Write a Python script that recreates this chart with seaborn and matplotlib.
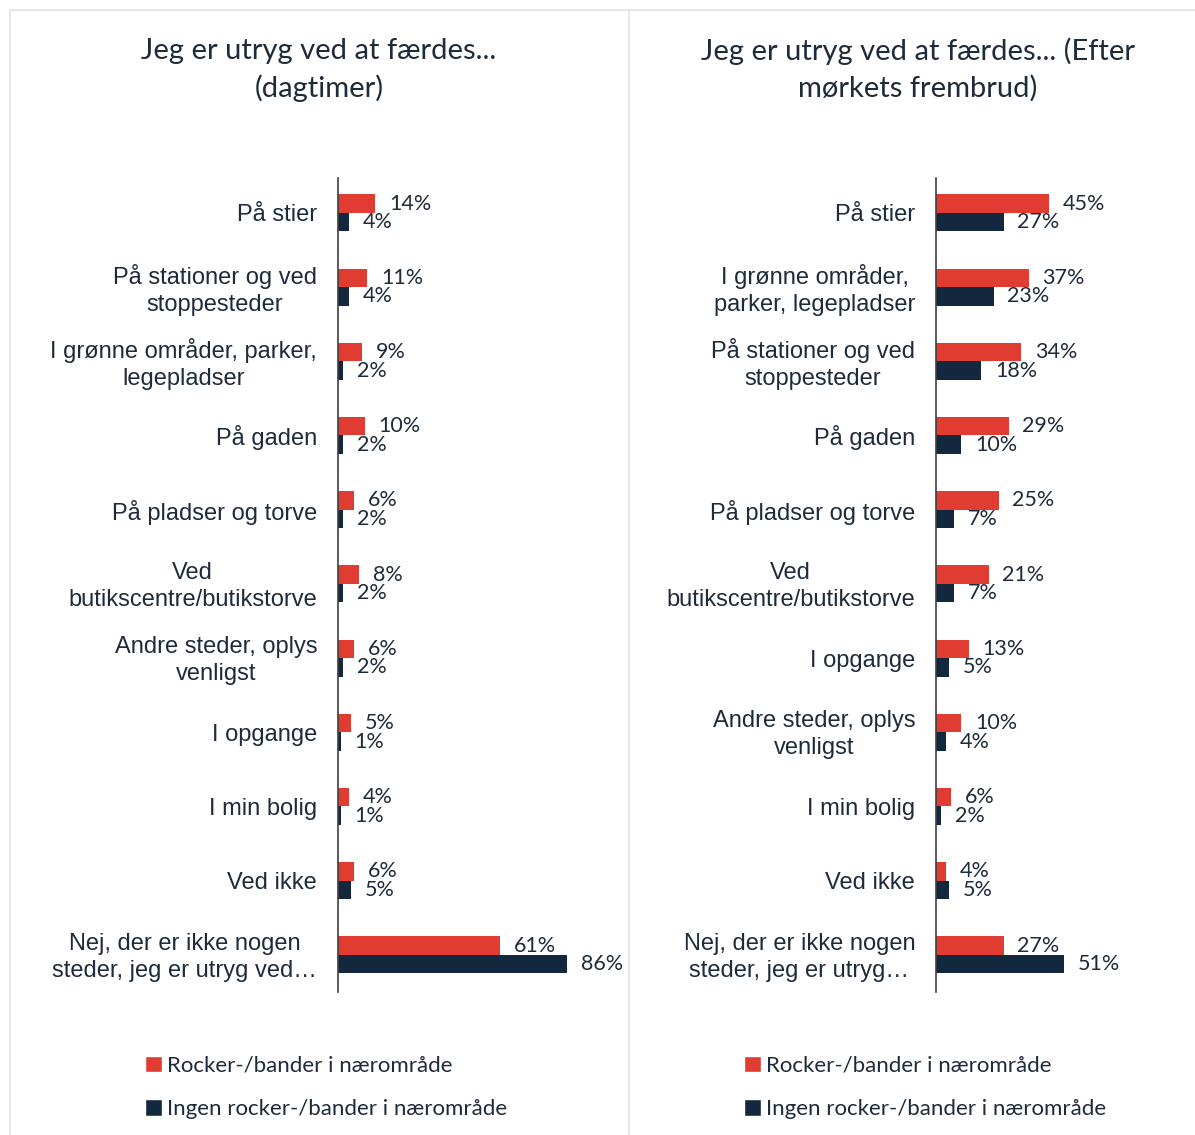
import seaborn as sns
import matplotlib.pyplot as plt
import matplotlib.transforms as mtransforms
import pandas as pd
from matplotlib.patches import Patch
from matplotlib.lines import Line2D

groups = ["Rocker-/bander i nærområde", "Ingen rocker-/bander i nærområde"]
colors = ["#E03C31", "#13283E"]

day_titles = "Jeg er utryg ved at færdes...\n(dagtimer)"
day_cats = [
    "På stier",
    "På stationer og ved\nstoppesteder",
    "I grønne områder, parker,\nlegepladser",
    "På gaden",
    "På pladser og torve",
    "Ved\nbutikscentre/butikstorve",
    "Andre steder, oplys\nvenligst",
    "I opgange",
    "I min bolig",
    "Ved ikke",
    "Nej, der er ikke nogen\nsteder, jeg er utryg ved…",
]
day_rocker = [14, 11, 9, 10, 6, 8, 6, 5, 4, 6, 61]
day_ingen = [4, 4, 2, 2, 2, 2, 2, 1, 1, 5, 86]

night_titles = "Jeg er utryg ved at færdes... (Efter\nmørkets frembrud)"
night_cats = [
    "På stier",
    "I grønne områder,\nparker, legepladser",
    "På stationer og ved\nstoppesteder",
    "På gaden",
    "På pladser og torve",
    "Ved\nbutikscentre/butikstorve",
    "I opgange",
    "Andre steder, oplys\nvenligst",
    "I min bolig",
    "Ved ikke",
    "Nej, der er ikke nogen\nsteder, jeg er utryg…",
]
night_rocker = [45, 37, 34, 29, 25, 21, 13, 10, 6, 4, 27]
night_ingen = [27, 23, 18, 10, 7, 7, 5, 4, 2, 5, 51]

sns.set_style("white")
plt.rcParams["font.family"] = ["Liberation Sans", "DejaVu Sans"]
txt = "#1E2B3A"

fig = plt.figure(figsize=(11.95, 11.35), dpi=100)


def make_df(cats, a, b):
    return pd.DataFrame({
        "cat": cats * 2,
        "value": a + b,
        "group": [groups[0]] * len(cats) + [groups[1]] * len(cats),
    })


def draw_panel(ax, cats, a, b, xmax, title, cx, legx):
    df = make_df(cats, a, b)
    sns.barplot(data=df, y="cat", x="value", hue="group", order=cats,
                hue_order=groups, palette=colors, saturation=1, orient="h",
                width=0.5, linewidth=0, legend=False, ax=ax)
    for cont in ax.containers:
        ax.bar_label(cont, labels=[f"{v.get_width():.0f}%" for v in cont],
                     padding=10, fontsize=15.5, color=txt, family="Lato")
    ax.set_xlim(0, xmax)
    ax.set_ylim(len(cats) - 0.5, -0.47)
    ax.set_xlabel("")
    ax.set_ylabel("")
    ax.set_xticks([])
    ax.tick_params(axis="y", length=0, pad=15, labelsize=17, labelcolor=txt)
    shift = mtransforms.ScaledTranslation(0, -2.5 / 100, fig.dpi_scale_trans)
    for lab in ax.get_yticklabels():
        lab.set_multialignment("center")
        lab.set_linespacing(1.3)
        lab.set_verticalalignment("center")
        lab.set_transform(lab.get_transform() + shift)
    for s in ["top", "right", "bottom"]:
        ax.spines[s].set_visible(False)
    ax.spines["left"].set_color("#404040")
    ax.spines["left"].set_linewidth(1.2)
    fig.text(cx, 1 - 70 / 1135, title, ha="center", va="center",
             fontsize=21, color=txt, family="Lato", linespacing=1.45)
    handles = [Patch(facecolor=c, label=g) for c, g in zip(colors, groups)]
    fig.legend(handles=handles, loc="upper left",
               bbox_to_anchor=(legx, 1 - 1047 / 1135), frameon=False,
               handlelength=0.75, handleheight=0.75, handletextpad=0.25,
               labelspacing=1.05, prop={"family": "Lato", "size": 16},
               labelcolor=txt, borderaxespad=0)


ax1 = fig.add_axes([338 / 1195, 1 - 992 / 1135, 282 / 1195, 814 / 1135])
ax2 = fig.add_axes([936 / 1195, 1 - 992 / 1135, 254 / 1195, 814 / 1135])

draw_panel(ax1, day_cats, day_rocker, day_ingen, 106, day_titles,
           319 / 1195, 136 / 1195)
draw_panel(ax2, night_cats, night_rocker, night_ingen, 101.6, night_titles,
           918 / 1195, 735 / 1195)

# panel borders
border = "#E6E2DC"
for xs, ys in [([10, 1195], [10, 10]), ([10, 10], [10, 1135]),
               ([629, 629], [10, 1135])]:
    fig.add_artist(Line2D([x / 1195 for x in xs], [1 - y / 1135 for y in ys],
                          color=border, linewidth=1.2))

fig.savefig("out.png", dpi=100)
